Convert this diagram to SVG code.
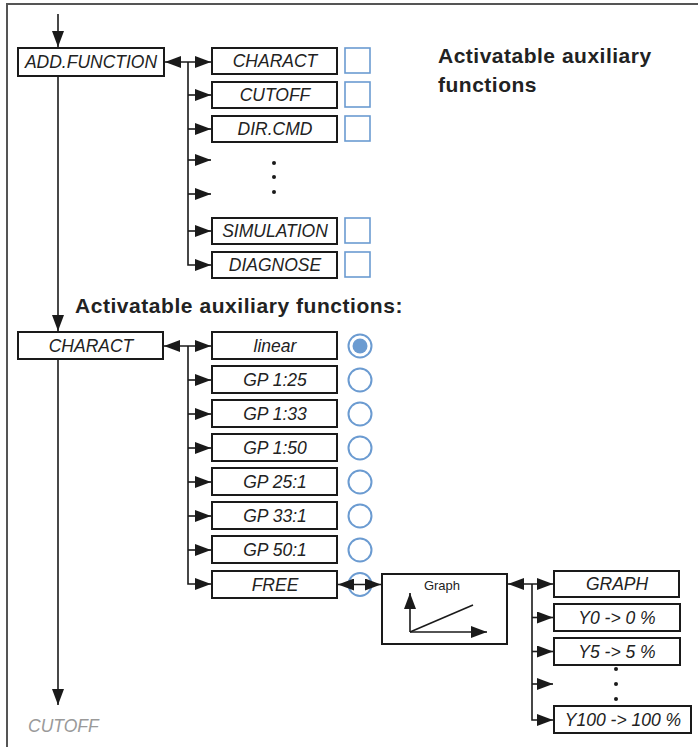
<svg xmlns="http://www.w3.org/2000/svg" width="698" height="747" viewBox="0 0 698 747">
<style>
.box{fill:#fff;stroke:#1a1a1a;stroke-width:2}
.t{font-family:"Liberation Sans",Arial,sans-serif;font-style:italic;font-size:17.5px;fill:#222;text-anchor:middle}
.h{font-family:"Liberation Sans",Arial,sans-serif;font-weight:bold;font-size:21px;fill:#222;letter-spacing:0.5px}
.ln{fill:none;stroke:#1a1a1a;stroke-width:1.6}
.chk{fill:#fff;stroke:#6b9bd1;stroke-width:1.6}
.rad{fill:none;stroke:#6b9bd1;stroke-width:2}
.dot{fill:#1a1a1a}
</style>
<defs>
<marker id="ah" viewBox="0 0 16 12" refX="16" refY="6" markerWidth="16" markerHeight="12" markerUnits="userSpaceOnUse" orient="auto-start-reverse">
<path d="M0,0 L16,6 L0,12 z" fill="#1a1a1a"/>
</marker>
</defs>
<path d="M7,747 V4 H698" fill="none" stroke="#555" stroke-width="2"/>

<text class="h" x="438" y="63">Activatable auxiliary</text>
<text class="h" x="438" y="92">functions</text>
<text class="h" x="75" y="313" style="letter-spacing:0.55px">Activatable auxiliary functions:</text>

<g id="n-addfunction"><rect class="box" x="18" y="48" width="146" height="28"/><text class="t" x="91" y="68">ADD.FUNCTION</text></g>

<g id="n-charact1"><rect class="box" x="212" y="48" width="125" height="26"/><text class="t" x="275" y="67">CHARACT</text><rect class="chk" x="345" y="48" width="25" height="25"/></g>
<g id="n-cutoff1"><rect class="box" x="212" y="82" width="125" height="26"/><text class="t" x="275" y="101">CUTOFF</text><rect class="chk" x="345" y="82" width="25" height="25"/></g>
<g id="n-dircmd"><rect class="box" x="212" y="116" width="125" height="26"/><text class="t" x="275" y="135">DIR.CMD</text><rect class="chk" x="345" y="116" width="25" height="25"/></g>
<g id="dots1"><circle class="dot" cx="274" cy="163" r="2"/><circle class="dot" cx="274" cy="177" r="2"/><circle class="dot" cx="274" cy="192" r="2"/></g>
<g id="n-simulation"><rect class="box" x="212" y="218" width="125" height="26"/><text class="t" x="275" y="237">SIMULATION</text><rect class="chk" x="345" y="218" width="25" height="25"/></g>
<g id="n-diagnose"><rect class="box" x="212" y="252" width="125" height="26"/><text class="t" x="275" y="271">DIAGNOSE</text><rect class="chk" x="345" y="252" width="25" height="25"/></g>

<g id="n-charact2"><rect class="box" x="18" y="332" width="145" height="27"/><text class="t" x="91" y="352">CHARACT</text></g>

<g id="n-linear"><rect class="box" x="212" y="332" width="125" height="27"/><text class="t" x="275" y="352">linear</text><circle class="rad" cx="360" cy="346" r="11.5"/><circle cx="360" cy="346" r="7.5" fill="#6b9bd1"/></g>
<g id="n-gp125"><rect class="box" x="212" y="366" width="125" height="27"/><text class="t" x="275" y="386">GP 1:25</text><circle class="rad" cx="360" cy="380" r="11.5"/></g>
<g id="n-gp133"><rect class="box" x="212" y="400" width="125" height="27"/><text class="t" x="275" y="420">GP 1:33</text><circle class="rad" cx="360" cy="414" r="11.5"/></g>
<g id="n-gp150"><rect class="box" x="212" y="434" width="125" height="27"/><text class="t" x="275" y="454">GP 1:50</text><circle class="rad" cx="360" cy="448" r="11.5"/></g>
<g id="n-gp251"><rect class="box" x="212" y="468" width="125" height="27"/><text class="t" x="275" y="488">GP 25:1</text><circle class="rad" cx="360" cy="482" r="11.5"/></g>
<g id="n-gp331"><rect class="box" x="212" y="502" width="125" height="27"/><text class="t" x="275" y="522">GP 33:1</text><circle class="rad" cx="360" cy="516" r="11.5"/></g>
<g id="n-gp501"><rect class="box" x="212" y="536" width="125" height="27"/><text class="t" x="275" y="556">GP 50:1</text><circle class="rad" cx="360" cy="550" r="11.5"/></g>
<g id="n-free"><rect class="box" x="212" y="571" width="125" height="27"/><text class="t" x="275" y="591">FREE</text><circle class="rad" cx="360" cy="584.5" r="11.5"/></g>

<g id="n-graphbox">
<rect class="box" x="382" y="574" width="125" height="70"/>
<text x="442" y="590" font-family="'Liberation Sans',Arial,sans-serif" font-size="13" fill="#222" text-anchor="middle">Graph</text>
<path class="ln" d="M410,632 V593" marker-end="url(#ah)"/>
<path class="ln" d="M410,632 H487" marker-end="url(#ah)"/>
<path class="ln" d="M410,632 L473,605"/>
</g>

<g id="n-graph"><rect class="box" x="554" y="571" width="125" height="26"/><text class="t" x="617" y="590">GRAPH</text></g>
<g id="n-y0"><rect class="box" x="554" y="604" width="126" height="27"/><text class="t" x="617" y="624">Y0 -&gt; 0 %</text></g>
<g id="n-y5"><rect class="box" x="554" y="638" width="126" height="27"/><text class="t" x="617" y="658">Y5 -&gt; 5 %</text></g>
<g id="dots2"><circle class="dot" cx="616" cy="669" r="2"/><circle class="dot" cx="616" cy="684" r="2"/><circle class="dot" cx="616" cy="699" r="2"/></g>
<g id="n-y100"><rect class="box" x="554" y="706" width="137" height="27"/><text class="t" x="623" y="726">Y100 -&gt; 100 %</text></g>

<g id="n-cutoff2"><text x="28" y="732" font-family="'Liberation Sans',Arial,sans-serif" font-style="italic" font-size="17.5" fill="#9a9a9a">CUTOFF</text></g>

<g id="connectors">
<path class="ln" d="M58,14 V47" marker-end="url(#ah)"/>
<path class="ln" d="M58,77 V331" marker-end="url(#ah)"/>
<path class="ln" d="M58,360 V705" marker-end="url(#ah)"/>
<path class="ln" d="M165,62 H211" marker-start="url(#ah)" marker-end="url(#ah)"/>
<path class="ln" d="M188,62 V265 H211" marker-end="url(#ah)"/>
<path class="ln" d="M188,95 H211" marker-end="url(#ah)"/>
<path class="ln" d="M188,129 H211" marker-end="url(#ah)"/>
<path class="ln" d="M188,160 H211" marker-end="url(#ah)"/>
<path class="ln" d="M188,194 H211" marker-end="url(#ah)"/>
<path class="ln" d="M188,231 H211" marker-end="url(#ah)"/>

<path class="ln" d="M164,346 H211" marker-start="url(#ah)" marker-end="url(#ah)"/>
<path class="ln" d="M188,346 V584 H211" marker-end="url(#ah)"/>
<path class="ln" d="M188,380 H211" marker-end="url(#ah)"/>
<path class="ln" d="M188,414 H211" marker-end="url(#ah)"/>
<path class="ln" d="M188,448 H211" marker-end="url(#ah)"/>
<path class="ln" d="M188,482 H211" marker-end="url(#ah)"/>
<path class="ln" d="M188,516 H211" marker-end="url(#ah)"/>
<path class="ln" d="M188,550 H211" marker-end="url(#ah)"/>
<path class="ln" d="M338,584.5 H381" marker-start="url(#ah)" marker-end="url(#ah)"/>

<path class="ln" d="M508,584 H553" marker-start="url(#ah)" marker-end="url(#ah)"/>
<path class="ln" d="M532,584 V720 H553" marker-end="url(#ah)"/>
<path class="ln" d="M532,617.5 H553" marker-end="url(#ah)"/>
<path class="ln" d="M532,651.5 H553" marker-end="url(#ah)"/>
<path class="ln" d="M532,684 H553" marker-end="url(#ah)"/>
</g>
</svg>
